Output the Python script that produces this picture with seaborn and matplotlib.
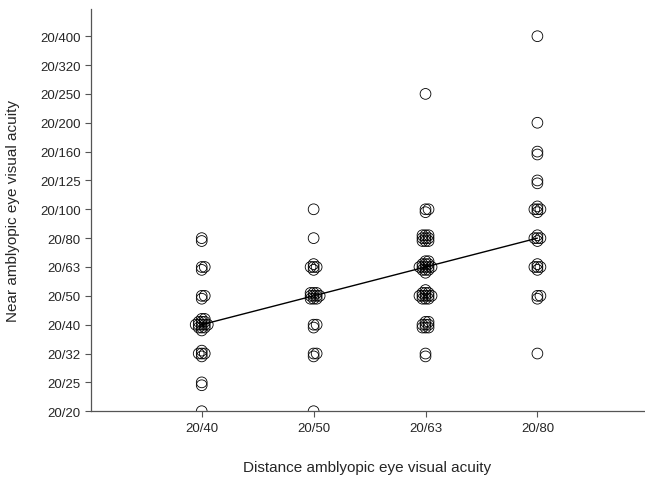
import numpy as np
import pandas as pd
import seaborn as sns
from matplotlib import pyplot as plt

# acuity levels (Snellen) and the count of eyes in each cell
near_labels = ["20/20", "20/25", "20/32", "20/40", "20/50", "20/63", "20/80",
               "20/100", "20/125", "20/160", "20/200", "20/250", "20/320", "20/400"]
distance_labels = ["20/40", "20/50", "20/63", "20/80"]

# counts per near level (index into near_labels) for each distance column
counts_2040 = [1, 2, 5, 14, 3, 3, 2, 0, 0, 0, 0, 0, 0, 0]
counts_2050 = [1, 0, 3, 3, 10, 5, 1, 1, 0, 0, 0, 0, 0, 0]
counts_2063 = [0, 0, 2, 8, 12, 14, 9, 3, 0, 0, 0, 1, 0, 0]
counts_2080 = [0, 0, 1, 0, 3, 5, 5, 5, 2, 2, 1, 0, 0, 1]
all_counts = [counts_2040, counts_2050, counts_2063, counts_2080]

# small fixed spread so stacked eyes stay visible (grid, centre first)
spread = [(0, 0), (0, -1), (1, 0), (-1, 0), (0, 1), (1, 1), (-1, -1), (1, -1),
          (-1, 1), (2, 0), (-2, 0), (0, 2), (0, -2), (1, 2), (-1, -2), (2, 1)]

rows = []
for xi, col in enumerate(all_counts):
    for yi, n in enumerate(col):
        for k in range(n):
            dx, dy = spread[k % len(spread)]
            rows.append({"dist": xi, "near": yi,
                         "x": xi + dx * 0.027, "y": yi + dy * 0.10})
df = pd.DataFrame(rows)
medians = df.groupby("dist")["near"].median().reset_index()

sns.set_style("ticks")
plt.rcParams["font.family"] = ["Liberation Sans", "DejaVu Sans"]

fig = plt.figure(figsize=(6.45, 4.81), dpi=100)
ax = fig.add_axes([0.141, 0.143, 0.857, 0.836])

sns.lineplot(data=medians, x="dist", y="near", color="black", linewidth=1,
             ax=ax, zorder=3)
sns.scatterplot(data=df, x="x", y="y", s=60, facecolor="none",
                edgecolor="black", linewidth=0.6, ax=ax, zorder=2)

ax.set_xlim(-0.99, 3.95)
ax.set_ylim(0, 13.94)
ax.set_xticks(range(len(distance_labels)))
ax.set_xticklabels(distance_labels, fontsize=9.5)
ax.set_yticks(range(len(near_labels)))
ax.set_yticklabels(near_labels, fontsize=9.5)
ax.set_xlabel("Distance amblyopic eye visual acuity", fontsize=11, labelpad=19)
ax.set_ylabel("Near amblyopic eye visual acuity", fontsize=11, labelpad=14)

for side in ["top", "right"]:
    ax.spines[side].set_visible(False)
for side in ["left", "bottom"]:
    ax.spines[side].set_color("#555555")
    ax.spines[side].set_linewidth(0.9)
ax.tick_params(color="#555555", length=4, width=0.8)
for sp in ax.spines.values():
    sp.set_clip_on(False)

fig.savefig("out.png", dpi=100)
